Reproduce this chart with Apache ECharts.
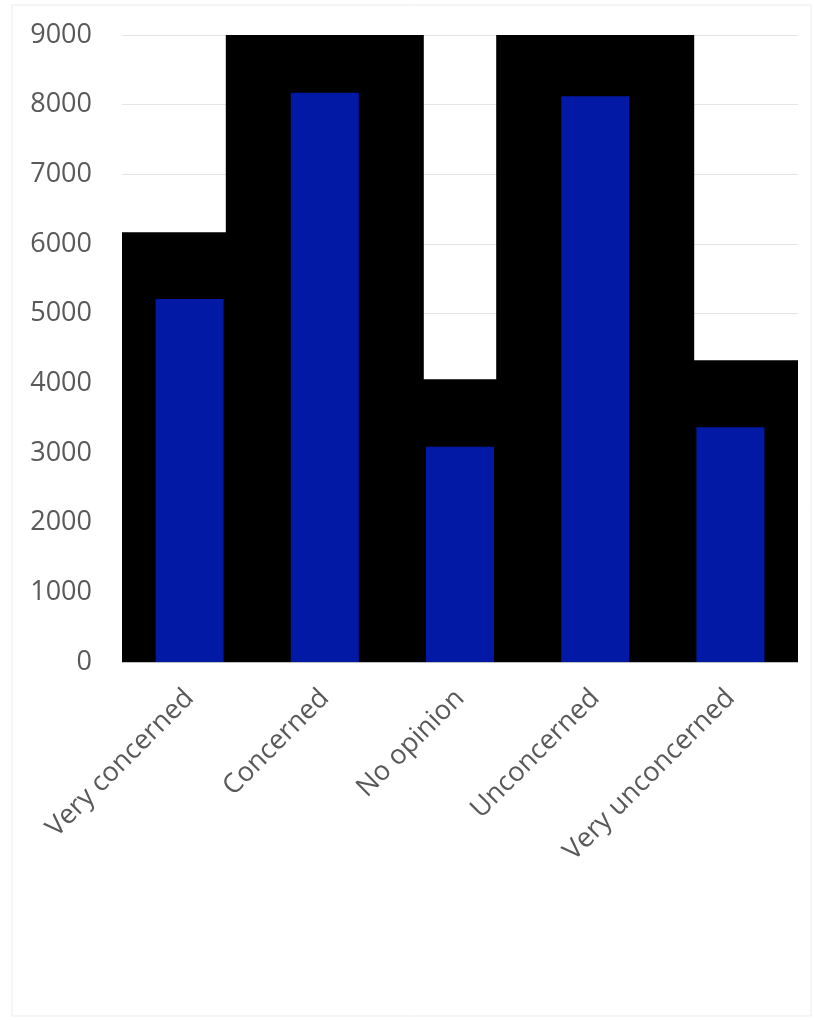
<!DOCTYPE html>
<html>
<head>
<meta charset="utf-8">
<script src="https://cdn.jsdelivr.net/npm/echarts@6/dist/echarts.min.js"></script>
<style>
  html, body { margin: 0; padding: 0; background: #fff; }
  #chart { width: 814px; height: 1020px; }
</style>
</head>
<body>
<div id="chart"></div>
<script>
var categories = ['Very concerned', 'Concerned', 'No opinion', 'Unconcerned', 'Very unconcerned'];
var blackValues = [6170, 9000, 4060, 9000, 4330];   // wide back bars (clipped at top)
var blueValues = [5210, 8170, 3090, 8120, 3370];    // narrow front bars
var yTicks = [0, 1000, 2000, 3000, 4000, 5000, 6000, 7000, 8000, 9000];

var chart = echarts.init(document.getElementById('chart'));
var labelColor = '#595959';
var option = {
    backgroundColor: '#fff',
    animation: false,
    graphic: [{
        type: 'rect',
        shape: { x: 12, y: 5, width: 799, height: 1011 },
        style: { fill: 'none', stroke: '#ececec', lineWidth: 1 },
        silent: true
    }],
    grid: {
        left: 122,
        right: 16,
        top: 35,
        bottom: 358
    },
    xAxis: [
        {
            type: 'category',
            data: categories,
            show: false
        },
        {
            type: 'category',
            data: categories,
            position: 'bottom',
            axisLine: { lineStyle: { color: '#bfbfbf', width: 1 } },
            axisTick: { show: false },
            axisLabel: {
                rotate: 45,
                margin: 32,
                color: labelColor,
                fontSize: 27,
                fontFamily: 'Open Sans'
            }
        }
    ],
    yAxis: {
        type: 'value',
        min: yTicks[0],
        max: yTicks[yTicks.length - 1],
        interval: 1000,
        axisLine: { show: false },
        axisTick: { show: false },
        splitLine: { lineStyle: { color: '#e4e4e4', width: 1 } },
        axisLabel: {
            margin: 30,
            color: labelColor,
            fontSize: 27,
            fontFamily: 'Open Sans',
            formatter: function (v) { return String(v); }
        }
    },
    series: [
        {
            type: 'bar',
            xAxisIndex: 0,
            data: blackValues,
            barWidth: 198,
            clip: true,
            itemStyle: { color: '#000' }
        },
        {
            type: 'bar',
            xAxisIndex: 1,
            data: blueValues,
            barWidth: 68,
            itemStyle: { color: '#0219a6' }
        }
    ]
};
chart.setOption(option);
</script>
</body>
</html>
